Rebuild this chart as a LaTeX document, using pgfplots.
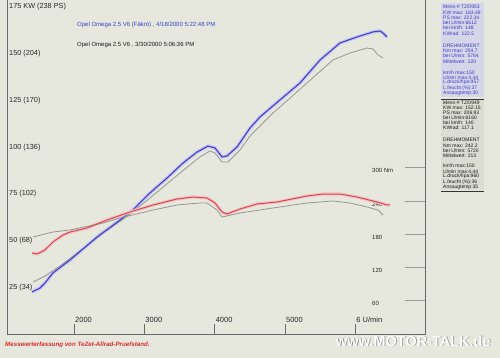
\documentclass[border=0pt]{standalone}
\usepackage{pgfplots}
\usepackage{pgfplotstable}
\pgfplotsset{compat=1.18}
\usepackage{fontspec}
\setmainfont{Liberation Sans}
\definecolor{paper}{RGB}{230,232,221}
\definecolor{pblue}{RGB}{68,62,195}
\definecolor{hblue}{RGB}{200,200,240}
\definecolor{pred}{RGB}{218,70,82}
\definecolor{hred}{RGB}{240,196,196}
\definecolor{pgray}{RGB}{150,150,148}
\definecolor{framec}{RGB}{105,105,105}
\definecolor{infoblue}{RGB}{60,60,200}
\definecolor{footred}{RGB}{225,40,40}

\pgfplotstableread{
rpm kw
1403 22.5
1516 24.6
1587 27.3
1701 32.7
1943 39.6
2327 51.9
2654 61.0
2839 66.4
3081 75.5
3323 83.5
3550 91.5
3750 97.4
3906 100.6
4006 99.6
4105 94.8
4176 95.3
4319 100.1
4504 110.3
4646 116.2
4930 125.3
5215 134.4
5500 146.7
5784 155.8
6026 159.0
6253 161.7
6353 162.2
6396 161.1
6452 159.0
}\bluepow

\pgfplotstableread{
rpm kw
1417 27.8
1587 31.0
1801 36.4
2085 44.4
2413 54.0
2797 64.2
3081 72.8
3508 86.2
3792 94.8
3935 98.0
4006 96.9
4105 92.1
4191 92.1
4361 98.5
4504 106.0
4831 118.3
5073 126.3
5314 134.4
5684 146.7
5926 150.4
6168 153.1
6253 152.6
6324 149.4
6396 147.8
}\graypow

\pgfplotstableread{
rpm nm
1403 146.2
1474 144.4
1587 151.6
1701 166.0
1844 178.6
1943 184.0
2185 191.3
2469 205.7
2797 220.1
3124 232.8
3465 243.6
3693 247.2
3892 245.4
4006 236.4
4105 220.1
4176 216.5
4361 225.5
4603 234.6
4888 238.2
5314 249.0
5542 252.6
5784 252.6
6026 247.2
6310 238.2
6452 232.8
6495 232.8
}\redtq

\pgfplotstableread{
rpm nm
1417 175.0
1701 184.0
1943 187.7
2413 200.3
2654 209.3
3124 223.7
3465 232.8
3792 236.4
3892 236.4
4034 223.7
4105 211.1
4361 218.3
4831 227.4
5314 236.4
5684 240.0
5926 236.4
6168 229.2
6324 223.7
6396 214.7
}\graytq

\newcommand\infofont{\fontsize{5}{5.2}\selectfont}
\newcommand\info[3]{\node[anchor=west,inner sep=0pt,font=\infofont,text=#3] at (443,{358-#1}) {#2};}

\pgfplotsset{common/.style={
  at={(7pt,24pt)}, anchor=south west,
  scale only axis, width=418pt, height=334pt,
  xmin=1047, xmax=6993, ymin=0,
  axis line style={draw=none},
  tick align=inside,
}}

\begin{document}
\begin{tikzpicture}
\fill[paper] (0pt,0pt) rectangle (500pt,358pt);
\useasboundingbox (0pt,0pt) rectangle (500pt,358pt);

% info panel backgrounds
\fill[hblue!55!paper] (441pt,355pt) rectangle (484pt,261pt);
\fill[black!5!paper] (441pt,258.5pt) rectangle (484pt,168pt);

\begin{axis}[common,
  ymax=178.8,
  xtick pos=bottom, ytick pos=left,
  major tick length=10pt,
  xtick={2000,3000,4000,5000,6000},
  xticklabels={2000,3000,4000,5000,6 U/min},
  xtick style={draw=framec, line width=0.5pt},
  ytick={25,50,75,100,125,150,175},
  yticklabels={25 (34),50 (68),75 (102),100 (136),125 (170),150 (204),175 KW (238 PS)},
  ytick style={draw=none},
  xticklabel style={anchor=base west, inner sep=0pt, xshift=1pt, yshift=11.5pt, font=\fontsize{7.5}{9}\selectfont, text=black!85},
  yticklabel style={anchor=west, inner sep=0pt, xshift=2pt, font=\fontsize{7.3}{9}\selectfont, text=black!85},
]
\addplot[no marks, line width=3.6pt, hblue] table[x=rpm,y=kw] {\bluepow};
\addplot[no marks, line width=0.8pt, pgray] table[x=rpm,y=kw] {\graypow};
\addplot[no marks, line width=1.1pt, pblue] table[x=rpm,y=kw] {\bluepow};
\end{axis}

\begin{axis}[common,
  ymax=602.7,
  xtick=\empty,
  ytick pos=right, yticklabel pos=right,
  major tick length=20pt,
  ytick={60,120,180,240,300},
  yticklabels={60,120,180,240,300 Nm},
  ytick style={draw=black!40, line width=0.5pt},
  yticklabel style={anchor=west, inner sep=0pt, xshift=-53pt, yshift=-3pt, font=\fontsize{6}{7}\selectfont, text=black!85},
]
\addplot[no marks, line width=3.2pt, hred] table[x=rpm,y=nm] {\redtq};
\addplot[no marks, line width=0.8pt, pgray] table[x=rpm,y=nm] {\graytq};
\addplot[no marks, line width=1.0pt, pred] table[x=rpm,y=nm] {\redtq};
\end{axis}

% frame
\draw[framec, line width=0.6pt] (7pt,358pt) -- (7pt,24pt) -- (425pt,24pt) -- (425pt,358pt);

% legend texts
\node[anchor=west, inner sep=0pt, font=\fontsize{6}{7}\selectfont, text=infoblue] at (77pt,333pt) {Opel Omega 2.5 V6 (Fäkrö) , 4/18/2000 5:22:48 PM};
\node[anchor=west, inner sep=0pt, font=\fontsize{6}{7}\selectfont, text=black!90] at (77pt,313pt) {Opel Omega 2.5 V6 , 3/30/2000 5:06:36 PM};

\begin{scope}[x=1pt,y=1pt]
% info panel, run 1
\info{6.7}{Mess-\# TZ/0953}{infoblue}
\info{12.3}{KW max: 163.48}{infoblue}
\info{17.3}{PS max: 222.34}{infoblue}
\info{22.3}{bei U/min:6612}{infoblue}
\info{27.7}{bei km/h: 148}{infoblue}
\info{33.3}{KWrad: 122.5}{infoblue}
\info{45.7}{DREHMOMENT}{infoblue}
\info{50.7}{Nm max: 254.7}{infoblue}
\info{56}{bei U/min: 5764}{infoblue}
\info{61.3}{Mittelwert: 220}{infoblue}
\info{72.7}{km/h max:150}{infoblue}
\info{77.3}{U/min max:4.44}{infoblue}
\info{82.7}{L.druck/hpa:957}{infoblue}
\info{88}{L.feucht (\%):37}{infoblue}
\info{93.3}{Ansaugtemp:30}{infoblue}
\draw[black!80, line width=0.6pt] (441,{358-99}) -- (484,{358-99});
% info panel, run 2
\info{102.3}{Mess-\# TZ/0949}{black!90}
\info{107.3}{KW max: 152.15}{black!90}
\info{112.3}{PS max: 206.93}{black!90}
\info{117.3}{bei U/min:6160}{black!90}
\info{122.3}{bei km/h: 140}{black!90}
\info{127.3}{KWrad: 117.1}{black!90}
\info{140}{DREHMOMENT}{black!90}
\info{145.7}{Nm max: 242.2}{black!90}
\info{150.7}{bei U/min: 5720}{black!90}
\info{155.7}{Mittelwert: 213}{black!90}
\info{166}{km/h max:150}{black!90}
\info{171.3}{U/min max:4.44}{black!90}
\info{176.7}{L.druck/hpa:960}{black!90}
\info{182.3}{L.feucht (\%):36}{black!90}
\info{187.3}{Ansaugtemp:35}{black!90}
\draw[black!80, line width=0.6pt] (441,{358-191}) -- (484,{358-191});

% footer
\node[anchor=west, inner sep=0pt, font=\fontsize{6.2}{7}\selectfont\bfseries\itshape, text=footred] at (5,{358-345}) {Messwerterfassung von TeZet-Allrad-Pruefstand.};
% watermark
\node[anchor=west, inner sep=0pt, font=\fontsize{14.5}{16}\selectfont\bfseries, text=black!45] at (336.8,{358-341.8}) {www.MOTOR-TALK.de};
\node[anchor=west, inner sep=0pt, font=\fontsize{14.5}{16}\selectfont\bfseries, text=white] at (336,{358-341}) {www.MOTOR-TALK.de};
\end{scope}
\end{tikzpicture}
\end{document}
